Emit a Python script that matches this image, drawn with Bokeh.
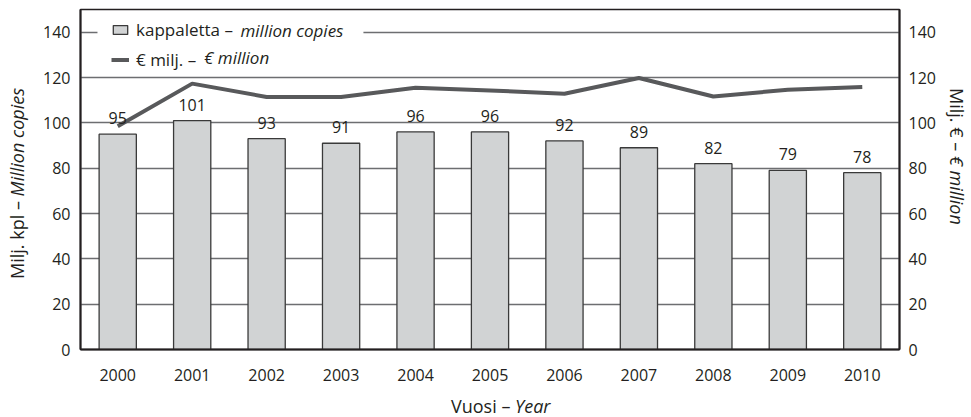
from bokeh.plotting import figure
from bokeh.models import (Range1d, LinearAxis, Legend, LegendItem, Label, ColumnDataSource,
                          FactorRange, Div, BoxAnnotation)
from bokeh.layouts import row, column
from bokeh.embed import file_html
from bokeh.resources import INLINE
from bokeh.core.properties import value

# ---- data ----
years = ["2000", "2001", "2002", "2003", "2004", "2005", "2006", "2007", "2008", "2009", "2010"]
copies_million = [95, 101, 93, 91, 96, 96, 92, 89, 82, 79, 78]
euro_million = [98.5, 117.3, 111.4, 111.4, 115.5, 114.3, 112.8, 119.8, 111.6, 114.6, 115.8]
y_ticks = [0, 20, 40, 60, 80, 100, 120, 140]

FONT = "Open Sans"
TXT = "#231f20"
FS = "17px"      # legend text
FS_NUM = "16px"  # tick and value labels
FS_TITLE = "18px"

src = ColumnDataSource(dict(year=years, copies=copies_million, euro=euro_million,
                            lab=[str(v) for v in copies_million]))

p = figure(width=908, height=395, x_range=FactorRange(*years, range_padding=0),
           y_range=Range1d(0, 150), output_backend="svg", toolbar_location=None,
           min_border_left=46, min_border_right=43, min_border_top=9, min_border_bottom=46)
p.extra_y_ranges = {"eur": Range1d(0, 150)}

p.outline_line_color = "#231f20"
p.outline_line_width = 1.5
p.xgrid.grid_line_color = None
p.ygrid.ticker = y_ticks
p.ygrid.grid_line_color = "#6d6e71"
p.ygrid.grid_line_width = 1.5

# white backing behind the legend (hides the grid line there)
p.add_layout(BoxAnnotation(left=0.228, right=3.80, bottom=122.5, top=148.0,
                           fill_color="white", fill_alpha=1.0, line_color=None,
                           level="underlay"))

bars = p.vbar(x="year", top="copies", width=0.5, source=src,
              fill_color="#d1d3d4", line_color="#3a3a3a", line_width=1.3)
line = p.line(x="year", y="euro", source=src, y_range_name="eur",
              line_color="#58595b", line_width=4)
p.text(x="year", y="copies", text="lab", source=src, text_align="center",
       text_baseline="bottom", y_offset=-10, text_font=value(FONT),
       text_font_size=FS_NUM, text_color=TXT)

def style_axis(ax, standoff):
    ax.major_tick_line_color = None
    ax.minor_tick_line_color = None
    ax.major_tick_out = 0
    ax.major_tick_in = 0
    ax.minor_tick_out = 0
    ax.minor_tick_in = 0
    ax.major_label_standoff = standoff
    ax.major_label_text_font = FONT
    ax.major_label_text_font_size = FS_NUM
    ax.major_label_text_color = TXT
    ax.axis_line_color = "#231f20"
    ax.axis_line_width = 2

style_axis(p.xaxis[0], 19)
style_axis(p.yaxis[0], 10)
p.yaxis[0].ticker = y_ticks
ry = LinearAxis(y_range_name="eur", ticker=y_ticks)
style_axis(ry, 9)
p.add_layout(ry, "right")

legend = Legend(items=[LegendItem(label="kappaletta \u2013", renderers=[bars]),
                       LegendItem(label="\u20ac milj. \u2013", renderers=[line])],
                location=(31, 278), padding=8, margin=0, spacing=7,
                glyph_width=18, glyph_height=11, label_height=20, label_width=229,
                label_standoff=7, label_text_font=FONT, label_text_font_size=FS,
                label_text_color=TXT, border_line_color=None,
                background_fill_alpha=0.0)
p.add_layout(legend, "center")

# italic parts of the legend entries
for txt, xx, yy in [("million copies", 2.149, 140.7), ("\u20ac million", 1.66, 128.8)]:
    p.add_layout(Label(x=xx, y=yy, text=txt, text_font=FONT, text_font_size=FS,
                       text_color=TXT, text_font_style="italic", text_align="left",
                       text_baseline="middle", level="overlay"))

base = (f"font-family:'{FONT}';font-size:{FS_TITLE};line-height:22px;color:{TXT};"
        "white-space:nowrap;")

left_title = Div(width=34, height=395, margin=0, text=(
    '<div style="position:relative;width:34px;height:395px;">'
    f'<div style="position:absolute;left:6px;top:279px;transform-origin:0 0;'
    f'transform:rotate(-90deg);{base}">Milj. kpl \u2013 <i>Million copies</i></div></div>'))
right_title = Div(width=29, height=395, margin=0, text=(
    '<div style="position:relative;width:29px;height:395px;">'
    f'<div style="position:absolute;left:26px;top:88px;transform-origin:0 0;'
    f'transform:rotate(90deg);{base}">Milj. \u20ac \u2013 <i>\u20ac million</i></div></div>'))
x_title = Div(width=971, height=22, margin=0, text=(
    '<div style="position:relative;width:971px;height:22px;">'
    f'<div style="position:absolute;left:451px;top:0px;font-size:17px;{base}">'
    'Vuosi \u2013 <i>Year</i></div></div>'))

layout = column(row(left_title, p, right_title, spacing=0), x_title, spacing=0)

open("out.html", "w").write(file_html(layout, INLINE))
